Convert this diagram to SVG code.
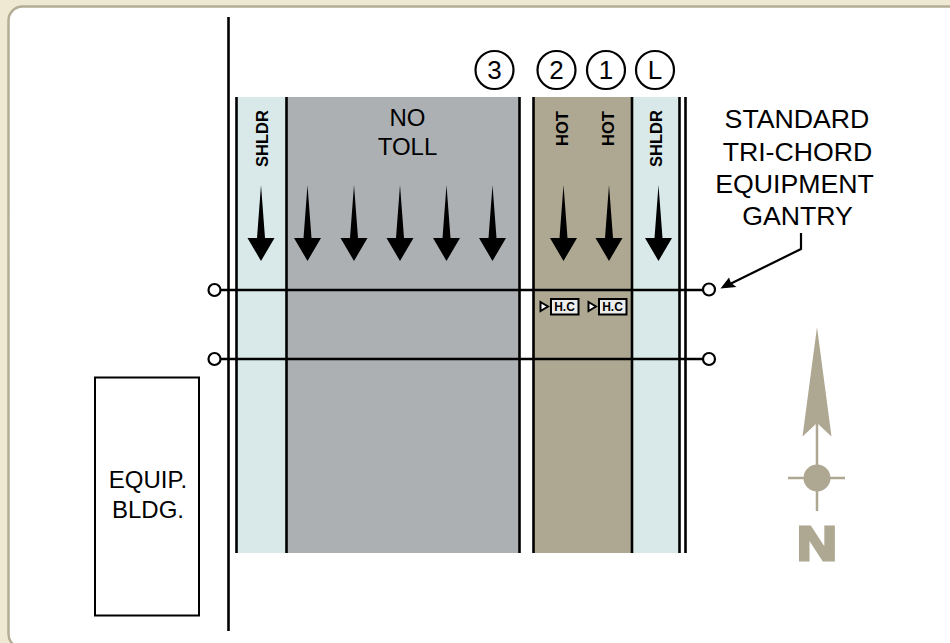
<svg xmlns="http://www.w3.org/2000/svg" width="950" height="643" viewBox="0 0 950 643">
<style>
text{font-family:"Liberation Sans",Arial,sans-serif;fill:#000}
.t{font-size:24px;text-anchor:middle}
.g{font-size:26.7px;text-anchor:middle}
.b{font-size:16.5px;font-weight:bold;text-anchor:middle}
.k{stroke:#000;stroke-width:2.6;fill:none}
.c{fill:#fff;stroke:#000;stroke-width:2.2}
.n{font-size:26px;text-anchor:middle}
.hc{fill:#ededed;stroke:#000;stroke-width:2}
.hct{font-size:12px;font-weight:bold;text-anchor:middle}
</style>
<defs>
<path id="arr" d="M0-76L4-23H13.500L0 0L-13.500-23H-4Z" fill="#000"/>
</defs>
<rect x="0" y="0" width="950" height="643" fill="#efe9d3"/>
<rect x="8.500" y="6.500" width="1000" height="641.500" rx="14" fill="#fff" stroke="#b3ad95" stroke-width="2.500"/>
<g id="lanes">
<rect x="236" y="97" width="50" height="456" fill="#d9e9e9"/>
<rect x="286" y="97" width="233" height="456" fill="#adb0b3"/>
<rect x="533" y="97" width="99" height="456" fill="#aea892"/>
<rect x="632" y="97" width="47" height="456" fill="#d9e9e9"/>
<path class="k" d="M236.500 97V553M286.500 97V553M519.500 97V553M533.500 97V553M632 97V553M679.500 97V553M685.500 97V553"/>
</g>
<g id="arrows">
<use href="#arr" x="261" y="261"/><use href="#arr" x="307.500" y="261"/><use href="#arr" x="354" y="261"/><use href="#arr" x="400" y="261"/><use href="#arr" x="446.500" y="261"/><use href="#arr" x="492.500" y="261"/><use href="#arr" x="563.500" y="261"/><use href="#arr" x="609" y="261"/><use href="#arr" x="658.500" y="261"/>
</g>
<g id="lane-labels">
<text class="b" transform="translate(268 138.500) rotate(-90)">SHLDR</text>
<text class="b" transform="translate(568 128.500) rotate(-90)">HOT</text>
<text class="b" transform="translate(614 128.500) rotate(-90)">HOT</text>
<text class="b" transform="translate(662 138.500) rotate(-90)">SHLDR</text>
<text class="t" x="407.500" y="126">NO</text>
<text class="t" x="407.500" y="155">TOLL</text>
</g>
<g id="main-line"><path class="k" d="M228.500 17V631"/></g>
<g id="connectors">
<path class="k" d="M220 290H703M220 359H703"/>
<path d="M801 233V249L730 284" fill="none" stroke="#000" stroke-width="2.200"/>
<path d="M720.500 288.500L729 277.500L731 283L736.500 287Z" fill="#000"/>
</g>
<g id="gantry-ends">
<circle class="c" cx="214.500" cy="290" r="6"/>
<circle class="c" cx="214.500" cy="359" r="6"/>
<circle class="c" cx="709" cy="289.500" r="6"/>
<circle class="c" cx="709" cy="359" r="6"/>
</g>
<g id="lane-3"><circle class="c" cx="494.500" cy="70" r="19"/><text class="n" x="494.500" y="79">3</text></g>
<g id="lane-2"><circle class="c" cx="556.500" cy="70" r="19"/><text class="n" x="556.500" y="79">2</text></g>
<g id="lane-1"><circle class="c" cx="606" cy="70" r="19"/><text class="n" x="606" y="79">1</text></g>
<g id="lane-L"><circle class="c" cx="655" cy="70" r="19"/><text class="n" x="655" y="79">L</text></g>
<g id="hc-1">
<path d="M540.500 302L548 306.500L540.500 311Z" fill="#fff" stroke="#000" stroke-width="2"/>
<rect class="hc" x="551" y="299" width="27.500" height="15.500"/>
<text class="hct" x="564.500" y="311">H.C</text>
</g>
<g id="hc-2">
<path d="M588.500 302L596 306.500L588.500 311Z" fill="#fff" stroke="#000" stroke-width="2"/>
<rect class="hc" x="599" y="299" width="27.500" height="15.500"/>
<text class="hct" x="612.500" y="311">H.C</text>
</g>
<g id="equip-bldg">
<rect x="95" y="377.500" width="104" height="238" fill="#fff" stroke="#000" stroke-width="2"/>
<text class="t" x="148" y="487.500">EQUIP.</text>
<text class="t" x="148" y="518">BLDG.</text>
</g>
<g id="gantry-label">
<text class="g" x="797" y="128">STANDARD</text>
<text class="g" x="797.500" y="160.500">TRI-CHORD</text>
<text class="g" x="794.500" y="192.500">EQUIPMENT</text>
<text class="g" x="797.500" y="225">GANTRY</text>
</g>
<g id="north">
<path d="M817 327L831.500 436.500L817 423L802.500 436.500Z" fill="#aea892"/>
<path d="M817 423V511M788 478H845" stroke="#aea892" stroke-width="2.500" fill="none"/>
<circle cx="817" cy="478" r="13.500" fill="#aea892"/>
<text transform="translate(817 559.500) scale(1.150 1)" style="font-size:48px;font-weight:bold;text-anchor:middle;fill:#aea892;stroke:#aea892;stroke-width:3">N</text>
</g>
</svg>
